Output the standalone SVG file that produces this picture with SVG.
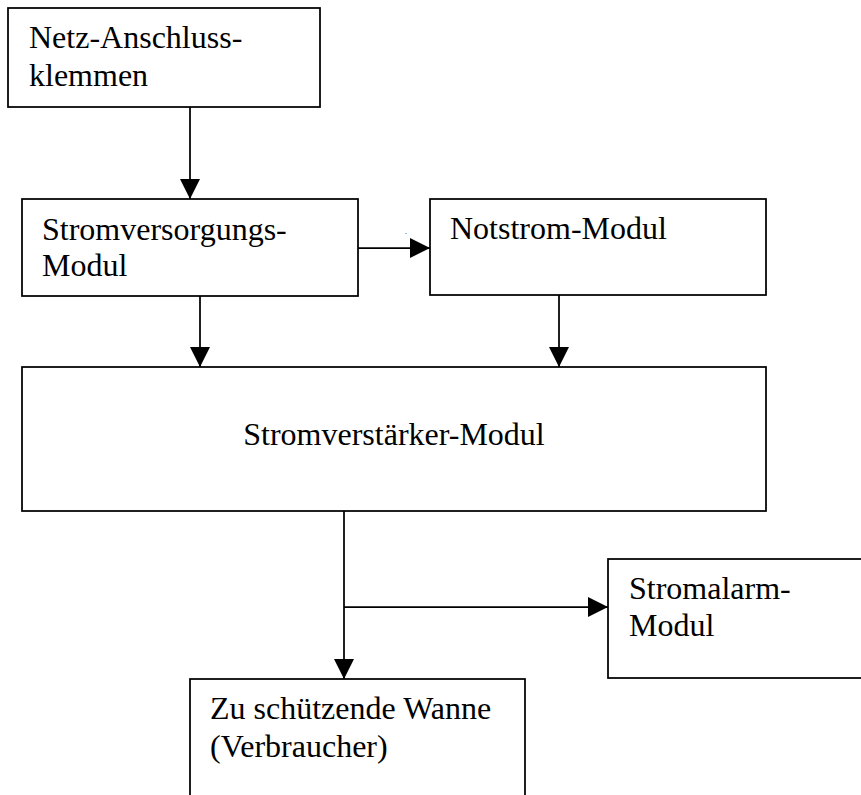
<svg xmlns="http://www.w3.org/2000/svg" width="861" height="795" viewBox="0 0 861 795">
<style>
.box{fill:#fff;stroke:#000;stroke-width:1.75}
.t{font-family:"Liberation Serif","Times New Roman",serif;font-size:32px;fill:#000}
.c{fill:none;stroke:#000;stroke-width:1.75}
</style>
<defs>
<marker id="ah" markerUnits="userSpaceOnUse" markerWidth="20" markerHeight="20" viewBox="0 0 20 20" refX="20" refY="10" orient="auto">
<path d="M0,0 L20,10 L0,20 Z" fill="#000"/>
</marker>
</defs>
<rect width="861" height="795" fill="#fff"/>
<g id="connectors">
<line class="c" x1="190" y1="107" x2="190" y2="199" marker-end="url(#ah)"/>
<line class="c" x1="358" y1="248" x2="430" y2="248" marker-end="url(#ah)"/>
<line class="c" x1="200" y1="296" x2="200" y2="367" marker-end="url(#ah)"/>
<line class="c" x1="559" y1="295" x2="559" y2="367" marker-end="url(#ah)"/>
<line class="c" x1="344" y1="511" x2="344" y2="679" marker-end="url(#ah)"/>
<line class="c" x1="344" y1="607" x2="608" y2="607" marker-end="url(#ah)"/>
</g>
<g id="netz">
<rect class="box" x="8" y="8" width="312" height="99"/>
<text class="t" x="29" y="48">Netz-Anschluss-</text>
<text class="t" x="29" y="86">klemmen</text>
</g>
<g id="stromversorgung">
<rect class="box" x="22" y="199" width="336" height="97"/>
<text class="t" x="42" y="240">Stromversorgungs-</text>
<text class="t" x="42" y="276">Modul</text>
</g>
<g id="notstrom">
<rect class="box" x="430" y="199" width="336" height="96"/>
<text class="t" x="450" y="239">Notstrom-Modul</text>
</g>
<text x="405" y="234" font-family="Liberation Serif, serif" font-size="8">.</text>
<g id="verstaerker">
<rect class="box" x="22" y="367" width="744" height="144"/>
<text class="t" x="394" y="445" text-anchor="middle">Stromverstärker-Modul</text>
</g>
<g id="alarm">
<rect class="box" x="608" y="559" width="262" height="119"/>
<text class="t" x="629" y="599">Stromalarm-</text>
<text class="t" x="629" y="636">Modul</text>
</g>
<g id="wanne">
<rect class="box" x="190" y="679" width="335" height="130"/>
<text class="t" x="210" y="719">Zu schützende Wanne</text>
<text class="t" x="210" y="757">(Verbraucher)</text>
</g>
</svg>
